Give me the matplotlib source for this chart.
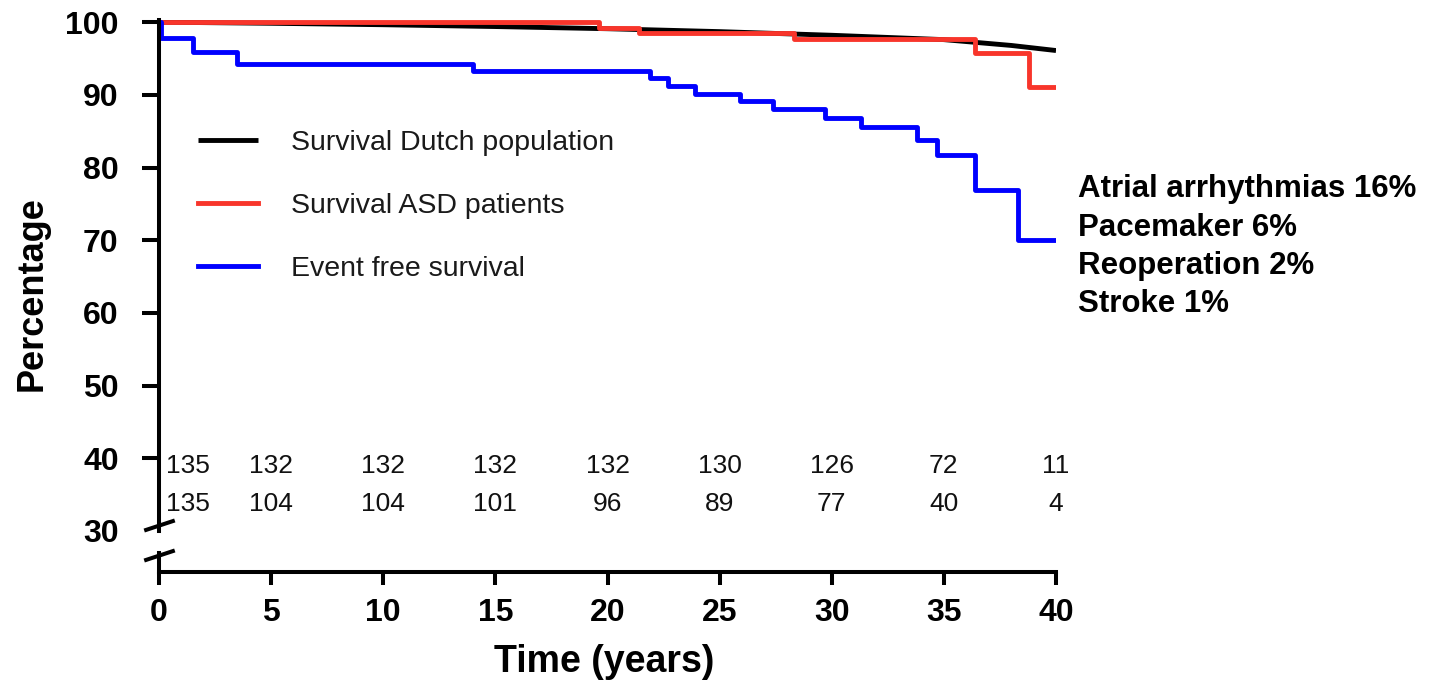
import matplotlib
matplotlib.use("Agg")
import matplotlib.pyplot as plt

plt.rcParams['font.family'] = ['Liberation Sans', 'DejaVu Sans']

# Survival of the general Dutch population (expected)
dutch_years = [0, 5, 10, 15, 20, 25, 30, 35, 38, 40]
dutch_surv = [100, 99.85, 99.65, 99.4, 99.1, 98.7, 98.2, 97.6, 96.8, 96.1]

# Kaplan-Meier survival of ASD patients
asd_years = [0, 19.6, 21.4, 28.3, 36.4, 38.8, 40]
asd_surv = [100, 99.2, 98.5, 97.7, 95.8, 91.1, 91.1]

# Event free survival
efs_years = [0, 0.1, 1.5, 3.5, 14.0, 21.9, 22.7, 23.9, 25.9, 27.4, 29.7,
             31.3, 33.8, 34.7, 36.4, 38.3, 40]
efs_surv = [100, 97.8, 95.9, 94.2, 93.3, 92.3, 91.2, 90.1, 89.1, 88.0, 86.8,
            85.6, 83.8, 81.7, 76.9, 70.0, 70.0]

# numbers at risk
risk_years = [0, 5, 10, 15, 20, 25, 30, 35, 40]
risk_survival = [135, 132, 132, 132, 132, 130, 126, 72, 11]
risk_event_free = [135, 104, 104, 101, 96, 89, 77, 40, 4]

events = ['Atrial arrhythmias 16%', 'Pacemaker 6%', 'Reoperation 2%', 'Stroke 1%']

W, H = 1439, 685
fig = plt.figure(figsize=(W / 100, H / 100), dpi=100)

left, right = 159 / W, 1056 / W
ax = fig.add_axes([left, 1 - 531 / H, right - left, 511 / H])
ax_low = fig.add_axes([left, 1 - 572 / H, right - left, 19 / H], sharex=ax)

LW = 2.9
CW = 3.5
ax.plot(dutch_years, dutch_surv, color='black', lw=CW, label='Survival Dutch population',
        solid_capstyle='butt')
ax.plot(asd_years, asd_surv, color='#f8352b', lw=CW, drawstyle='steps-post',
        label='Survival ASD patients')
ax.plot(efs_years, efs_surv, color='#0000ff', lw=CW, drawstyle='steps-post',
        label='Event free survival')

ax.set_xlim(0, 40)
ax.set_ylim(30, 100.3)
ax.set_yticks(range(30, 101, 10))
for s in ['top', 'right', 'bottom']:
    ax.spines[s].set_visible(False)
ax.spines['left'].set_linewidth(LW)
ax.tick_params(axis='y', length=12, width=LW, pad=17, labelsize=23)
ax.tick_params(axis='x', bottom=False, labelbottom=False)
for lab in ax.get_yticklabels():
    lab.set_fontweight('bold')
ax.yaxis.get_major_ticks()[0].tick1line.set_visible(False)

ax_low.set_ylim(0, 1)
ax_low.set_yticks([])
for s in ['top', 'right']:
    ax_low.spines[s].set_visible(False)
ax_low.spines['left'].set_linewidth(LW)
ax_low.spines['bottom'].set_linewidth(LW)
ax_low.set_xticks(range(0, 41, 5))
ax_low.tick_params(axis='x', length=9, width=LW, pad=10, labelsize=23)
for lab in ax_low.get_xticklabels():
    lab.set_fontweight('bold')
ax_low.patch.set_alpha(0)

# axis break marks
brk = dict(marker=[(-1, -0.33), (1, 0.33)], markersize=22, linestyle='none',
           color='k', mec='k', mew=LW, clip_on=False)
ax.plot([0], [0.012], transform=ax.transAxes, **brk)
ax_low.plot([0], [0.9], transform=ax_low.transAxes, **brk)

# numbers at risk
for t, n1, n2 in zip(risk_years, risk_survival, risk_event_free):
    x = t if t > 0 else 1.3
    ax.text(x, 38.9, str(n1), ha='center', va='center', fontsize=19,
            color='#111111')
    ax.text(x, 33.7, str(n2), ha='center', va='center', fontsize=19,
            color='#111111')

leg = ax.legend(loc='upper left', bbox_to_anchor=(198 / W, 1 - 130 / H),
                bbox_transform=fig.transFigure, frameon=False, fontsize=20.5,
                handlelength=2.1, handletextpad=1.15, labelspacing=1.3,
                borderpad=0, borderaxespad=0)
for txt in leg.get_texts():
    txt.set_color('#1a1a1a')

for i, e in enumerate(events):
    fig.text(1078 / W, 1 - (189 + 38.5 * i) / H, e, fontsize=22.5, fontweight='bold',
             va='center', ha='left')

fig.text(32 / W, 1 - 294 / H, 'Percentage', rotation=90, fontsize=26,
         fontweight='bold', ha='center', va='center')
fig.text(604 / W, 1 - 662 / H, 'Time (years)', fontsize=27,
         fontweight='bold', ha='center', va='center')

fig.savefig('out.png', dpi=100)
